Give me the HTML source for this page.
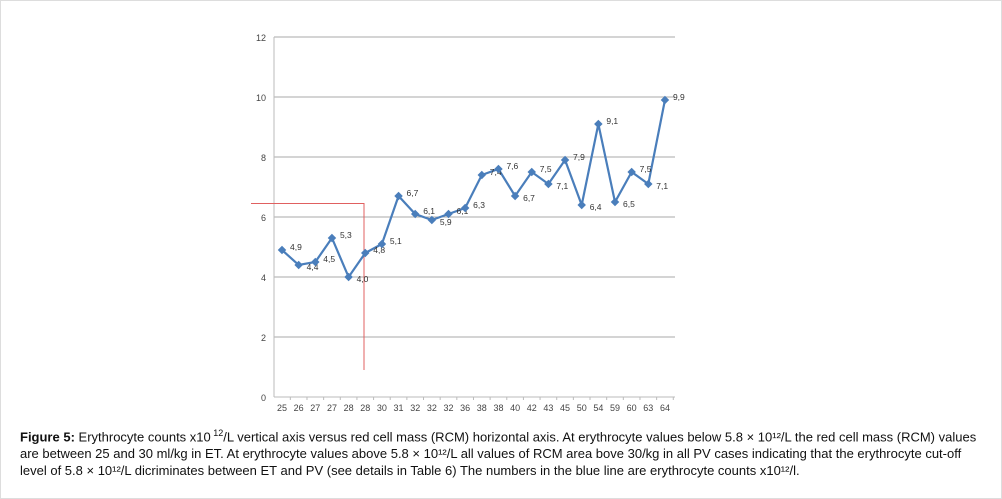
<!DOCTYPE html>
<html><head><meta charset="utf-8"><style>
body{margin:0;background:#fff;width:1002px;height:499px;overflow:hidden;position:relative;font-family:"Liberation Sans",Arial,sans-serif}
#frame{position:absolute;left:0;top:0;width:1000px;height:497px;border:1px solid #ddd}
#cap{position:absolute;left:20px;top:425px;width:970px;font-size:13px;line-height:17px;color:#111}
</style></head><body>
<div id="frame"></div>
<svg id="chart" width="1002" height="420" style="position:absolute;left:0;top:0"></svg>
<div id="cap"><b>Figure 5:</b> Erythrocyte counts x10<sup style="font-size:9px"> 12</sup>/L vertical axis versus red cell mass (RCM) horizontal axis. At erythrocyte values below 5.8 × 10¹²/L the red cell mass (RCM) values are between 25 and 30 ml/kg in ET. At erythrocyte values above 5.8 × 10¹²/L all values of RCM area bove 30/kg in all PV cases indicating that the erythrocyte cut-off level of 5.8 × 10¹²/L dicriminates between ET and PV (see details in Table 6) The numbers in the blue line are erythrocyte counts x10¹²/l.</div>
<script>
const categories=["25","26","27","27","28","28","30","31","32","32","32","36","38","38","40","42","43","45","50","54","59","60","63","64"];
const values=[4.9,4.4,4.5,5.3,4.0,4.8,5.1,6.7,6.1,5.9,6.1,6.3,7.4,7.6,6.7,7.5,7.1,7.9,6.4,9.1,6.5,7.5,7.1,9.9];
const yTicks=[0,2,4,6,8,10,12];
const NS="http://www.w3.org/2000/svg";
const svg=document.getElementById('chart');
const x0=274,x1=675,y0=397,pxU=30,step=16.65,xs=282;
const X=i=>xs+i*step, Y=v=>y0-v*pxU;
function mk(t,a,p){const e=document.createElementNS(NS,t);for(const k in a)e.setAttribute(k,a[k]);(p||svg).appendChild(e);return e;}
yTicks.forEach(t=>{
 if(t>0){const g=mk('line',{x1:x0,x2:x1,y1:Y(t),y2:Y(t),stroke:'#aaa','stroke-width':1});
 
 }
 const l=mk('text',{x:266,y:Y(t)+4,'text-anchor':'end','font-size':9,fill:'#444'});l.textContent=t;
 
 
});
const ax=mk('line',{x1:x0,x2:x0,y1:Y(12),y2:y0,stroke:'#bbb'});


const bx=mk('line',{x1:x0,x2:x1,y1:y0,y2:y0,stroke:'#bbb'});


categories.forEach((c,i)=>{
 const t=mk('text',{x:X(i),y:y0+14,'text-anchor':'middle','font-size':9,fill:'#444'});t.textContent=c;
 
 
 mk('line',{x1:X(i)+step/2,x2:X(i)+step/2,y1:y0,y2:y0+3,stroke:'#bbb'});
});
const rl=mk('path',{d:`M251 ${Y(6.45)} H364 V370`,fill:'none',stroke:'#e06060','stroke-width':1});


const line=mk('polyline',{points:values.map((v,i)=>X(i)+','+Y(v)).join(' '),fill:'none',stroke:'#4a7ebb','stroke-width':2.2});


values.forEach((v,i)=>{
 const m=mk('rect',{x:X(i)-3,y:Y(v)-3,width:6,height:6,fill:'#4a7ebb',transform:`rotate(45 ${X(i)} ${Y(v)})`});
 
 
 const t=mk('text',{x:X(i)+8,y:Y(v)+(i>0&&values[i-1]>v&&i<values.length-1&&values[i+1]>v?5:0),'font-size':8.5,fill:'#333'});
 t.textContent=v.toFixed(1).replace('.',',');
 
 
});
</script>
</body></html>
